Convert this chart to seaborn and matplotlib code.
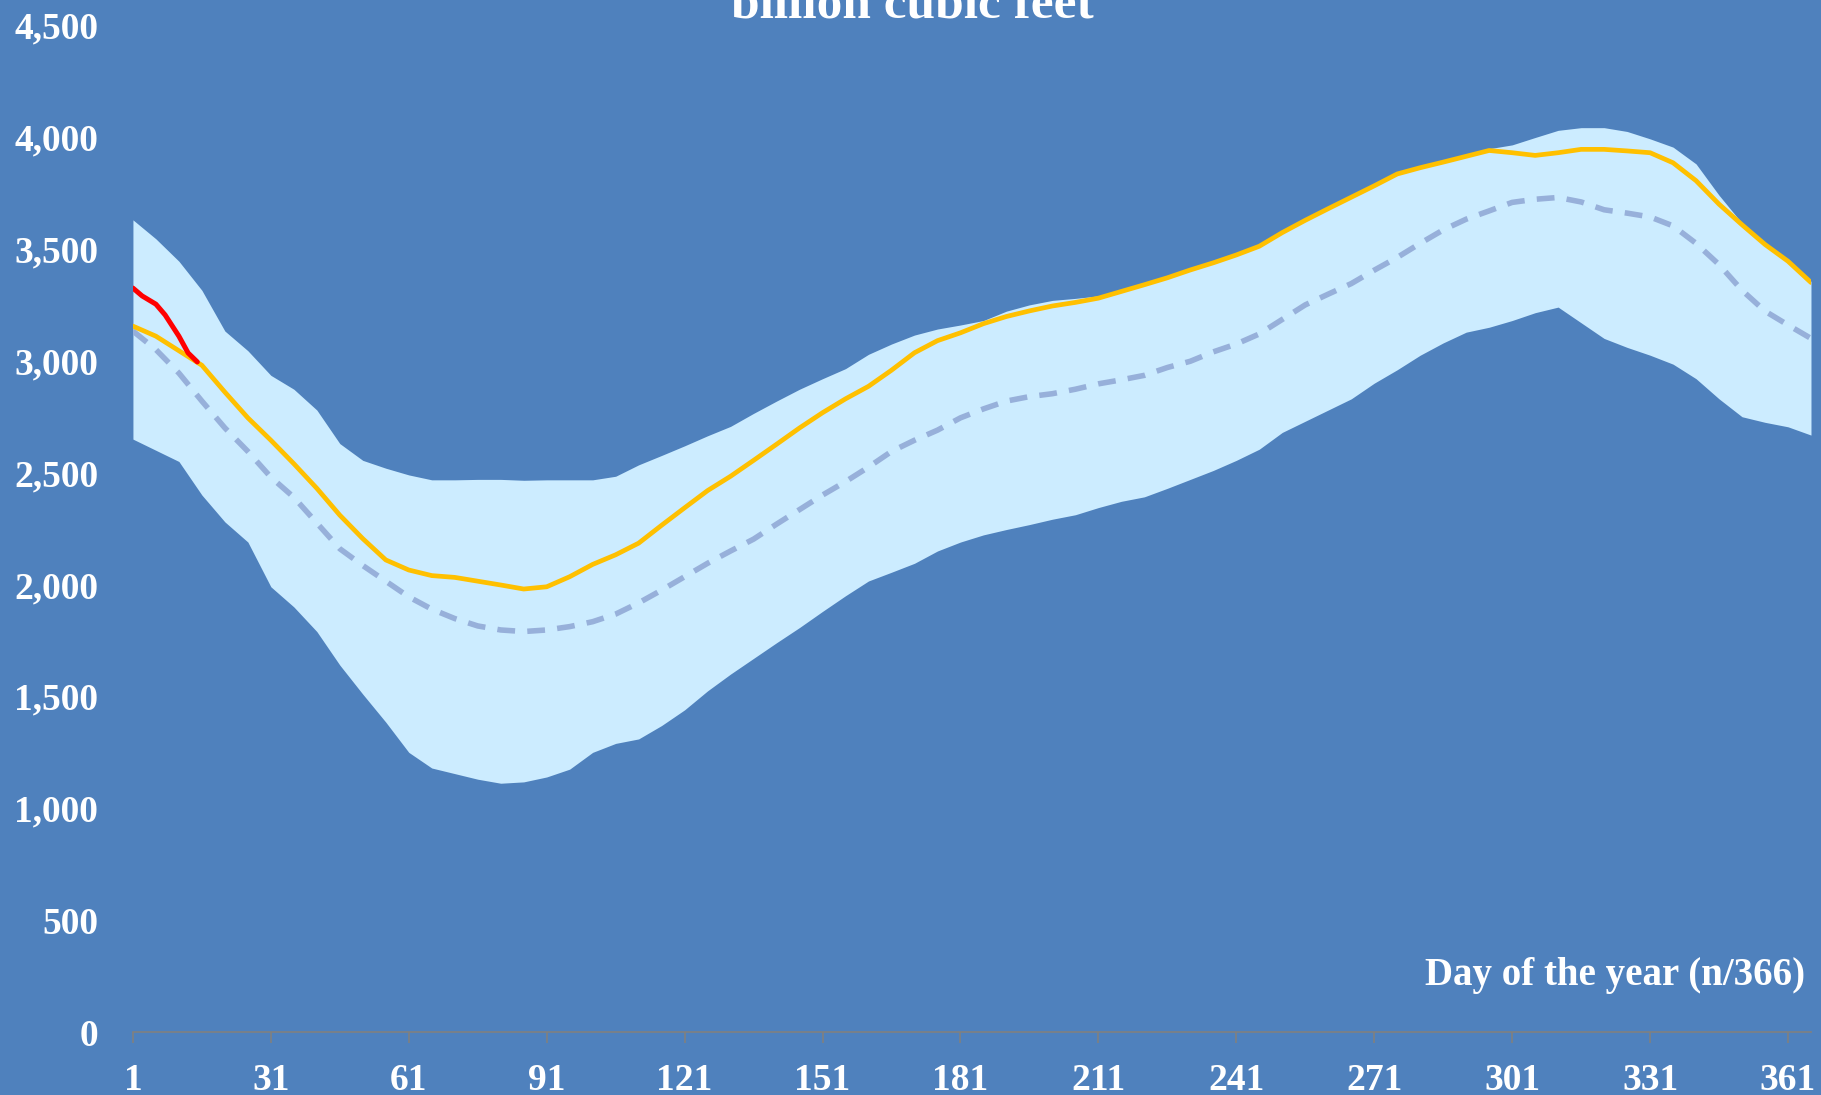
import matplotlib
matplotlib.use("Agg")
import matplotlib.pyplot as plt
import seaborn as sns

# ---- valores (miles de millones de pies cubicos) ----
dias = [1, 6, 11, 16, 21, 26, 31, 36, 41, 46,
        51, 56, 61, 66, 71, 76, 81, 86, 91, 96,
        101, 106, 111, 116, 121, 126, 131, 136, 141, 146,
        151, 156, 161, 166, 171, 176, 181, 186, 191, 196,
        201, 206, 211, 216, 221, 226, 231, 236, 241, 246,
        251, 256, 261, 266, 271, 276, 281, 286, 291, 296,
        301, 306, 311, 316, 321, 326, 331, 336, 341, 346,
        351, 356, 361, 366]

# rango maximo / minimo historico
banda_alta = [3630, 3545, 3445, 3315, 3133, 3045, 2935, 2873, 2780, 2630,
              2555, 2520, 2490, 2468, 2468, 2470, 2470, 2466, 2468, 2468,
              2468, 2484, 2535, 2577, 2620, 2665, 2707, 2765, 2820, 2873,
              2920, 2965, 3029, 3075, 3115, 3142, 3160, 3180, 3222, 3250,
              3270, 3279, 3290, 3315, 3345, 3375, 3410, 3445, 3480, 3520,
              3580, 3635, 3688, 3738, 3790, 3842, 3870, 3895, 3922, 3948,
              3965, 3998, 4030, 4042, 4042, 4025, 3992, 3955, 3880, 3740,
              3615, 3525, 3450, 3355]
banda_baja = [2650, 2600, 2550, 2400, 2280, 2190, 1990, 1900, 1790, 1640,
              1510, 1385, 1250, 1180, 1155, 1130, 1112, 1118, 1140, 1175,
              1250, 1290, 1310, 1370, 1440, 1525, 1600, 1670, 1740, 1808,
              1880, 1950, 2016, 2055, 2095, 2150, 2190, 2222, 2246, 2268,
              2292, 2312, 2344, 2372, 2392, 2430, 2470, 2510, 2555, 2605,
              2680, 2730, 2780, 2830, 2900, 2960, 3025, 3080, 3128, 3150,
              3180, 3215, 3240, 3170, 3100, 3060, 3025, 2985, 2920, 2830,
              2750, 2725, 2705, 2668]

# promedio (linea punteada)
promedio = [3133, 3050, 2945, 2820, 2700, 2595, 2480, 2390, 2275, 2160,
            2085, 2015, 1945, 1890, 1848, 1815, 1797, 1790, 1797, 1812,
            1834, 1868, 1918, 1975, 2035, 2095, 2150, 2203, 2270, 2335,
            2400, 2460, 2525, 2595, 2645, 2690, 2745, 2785, 2820, 2840,
            2853, 2873, 2897, 2915, 2935, 2970, 2998, 3040, 3075, 3120,
            3185, 3250, 3298, 3345, 3405, 3462, 3525, 3585, 3633, 3670,
            3708, 3722, 3730, 3710, 3675, 3660, 3643, 3603, 3525, 3430,
            3315, 3222, 3160, 3100]

# anio anterior (amarillo)
anio_prev = [3155, 3110, 3045, 2980, 2860, 2745, 2645, 2540, 2430, 2310,
             2205, 2110, 2065, 2040, 2032, 2015, 1998, 1980, 1990, 2035,
             2090, 2133, 2185, 2265, 2343, 2420, 2484, 2555, 2627, 2700,
             2768, 2830, 2886, 2958, 3036, 3090, 3125, 3166, 3198, 3223,
             3245, 3261, 3280, 3310, 3340, 3371, 3406, 3438, 3473, 3512,
             3573, 3628, 3680, 3731, 3782, 3835, 3863, 3888, 3914, 3940,
             3930, 3918, 3930, 3945, 3945, 3938, 3930, 3885, 3805, 3700,
             3608, 3520, 3445, 3350]

# anio actual (rojo)
dias_actual = [1, 3, 6, 8, 11, 13, 15]
anio_actual = [3325, 3290, 3253, 3205, 3110, 3035, 2995]

ticks_x = [1, 31, 61, 91, 121, 151, 181, 211, 241, 271, 301, 331, 361]
ticks_y = [0, 500, 1000, 1500, 2000, 2500, 3000, 3500, 4000, 4500]

FONDO = "#4F81BD"
BANDA = "#CCECFF"
GRIS = "#808080"

sns.set_style("white")
plt.rcParams["font.family"] = ["Liberation Serif", "DejaVu Serif"]
plt.rcParams["font.weight"] = "bold"

fig = plt.figure(figsize=(18.21, 10.95), dpi=100, facecolor=FONDO)
ax = fig.add_axes([0.0730, 0.0575, 0.9215, 0.9195])
ax.set_facecolor(FONDO)

ax.fill_between(dias, banda_baja, banda_alta, color=BANDA, linewidth=0, zorder=1)
sns.lineplot(x=dias, y=promedio, ax=ax, color="#97B0DA", linewidth=4,
             linestyle=(0, (3.2, 2.2)), zorder=2)
sns.lineplot(x=dias, y=anio_prev, ax=ax, color="#FFC000", linewidth=3.4, zorder=3)
sns.lineplot(x=dias_actual, y=anio_actual, ax=ax, color="#FF0000", linewidth=3.6,
             zorder=4)

ax.set_xlim(1, 366)
ax.set_ylim(0, 4500)
ax.set_xticks(ticks_x)
ax.set_yticks(ticks_y)
ax.set_yticklabels([f"{v:,}" for v in ticks_y])
ax.tick_params(axis="x", bottom=True, colors=GRIS, length=8, width=1.2,
               direction="out", pad=14, labelsize=27, labelcolor="white")
ax.tick_params(axis="y", left=False, length=0, pad=25, labelsize=27,
               labelcolor="white")
for lab in ax.get_xticklabels() + ax.get_yticklabels():
    lab.set_fontweight("bold")

for lado in ["top", "right", "left"]:
    ax.spines[lado].set_visible(False)
ax.spines["bottom"].set_color(GRIS)
ax.spines["bottom"].set_linewidth(1.2)
ax.set_xlabel("")
ax.set_ylabel("")

ax.text(0.9964, 0.0467, "Day of the year (n/366)", transform=ax.transAxes,
        ha="right", va="baseline", color="white", fontsize=28, fontweight="bold")
fig.text(0.501, 1 - 18 / 1095, "billion cubic feet", ha="center", va="baseline",
         color="white", fontsize=37, fontweight="bold")

fig.savefig("out.png", dpi=100, facecolor=FONDO)
